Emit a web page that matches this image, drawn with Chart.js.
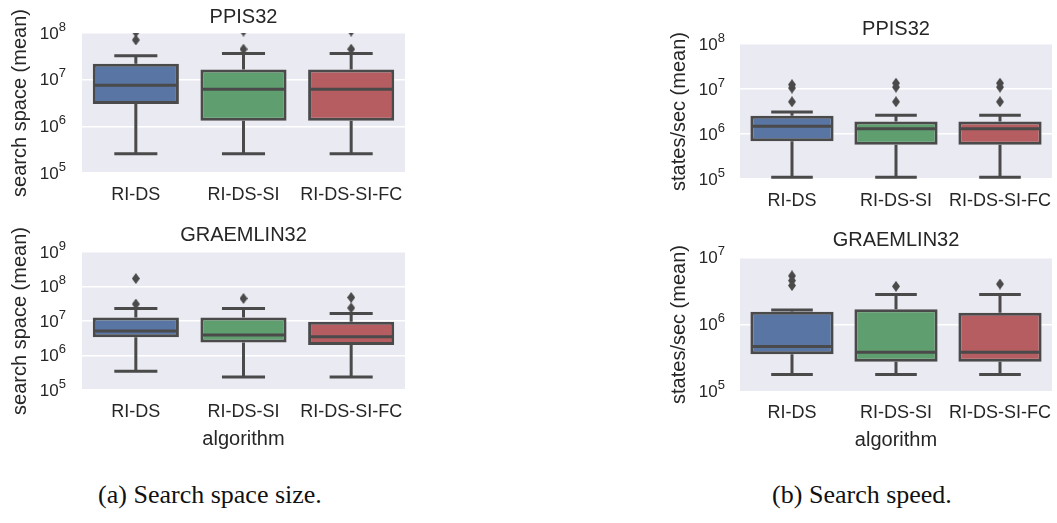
<!DOCTYPE html>
<html>
<head>
<meta charset="utf-8">
<script src="https://cdn.jsdelivr.net/npm/chart.js@4.4.1/dist/chart.umd.min.js"></script>
<style>
  body { margin: 0; background: #fff; width: 1057px; height: 523px; position: relative; overflow: hidden; }
  canvas { position: absolute; }
  .cap { position: absolute; font-family: "Liberation Serif", serif; font-size: 26px; line-height: 1; color: #111; transform: translateX(-50%); white-space: nowrap; }
</style>
</head>
<body>
<canvas id="a1" width="420" height="215" style="left:0;top:0"></canvas>
<canvas id="a2" width="420" height="240" style="left:0;top:215px"></canvas>
<canvas id="b1" width="417" height="220" style="left:640px;top:0"></canvas>
<canvas id="b2" width="417" height="240" style="left:640px;top:220px"></canvas>
<div class="cap" style="left:210px;top:482px">(a) Search space size.</div>
<div class="cap" style="left:862px;top:482px">(b) Search speed.</div>
<script>
const categories = ["RI-DS", "RI-DS-SI", "RI-DS-SI-FC"];

// search space, PPIS32
const spacePpisLow = [2.6e5, 2.6e5, 2.6e5];
const spacePpisQ1 = [3.0e6, 1.32e6, 1.32e6];
const spacePpisMed = [7.6e6, 6.2e6, 6.2e6];
const spacePpisQ3 = [2.2e7, 1.66e7, 1.66e7];
const spacePpisHigh = [3.25e7, 3.65e7, 3.65e7];
const spacePpisOut = [[1.05e8, 7.1e7], [1.1e8, 4.5e7], [1.1e8, 4.5e7]];
const spacePpisTicks = [1e5, 1e6, 1e7, 1e8];

// search space, GRAEMLIN32
const spaceGraemLow = [3.5e5, 2.4e5, 2.4e5];
const spaceGraemQ1 = [3.36e6, 2.4e6, 2.0e6];
const spaceGraemMed = [5.1e6, 3.9e6, 3.5e6];
const spaceGraemQ3 = [1.26e7, 1.26e7, 9.5e6];
const spaceGraemHigh = [2.3e7, 2.3e7, 1.65e7];
const spaceGraemOut = [[1.7e8, 3.1e7], [4.5e7], [4.8e7, 2.4e7]];
const spaceGraemTicks = [1e5, 1e6, 1e7, 1e8, 1e9];

// states/sec, PPIS32
const speedPpisLow = [1.1e5, 1.1e5, 1.1e5];
const speedPpisQ1 = [6.9e5, 5.8e5, 5.8e5];
const speedPpisMed = [1.48e6, 1.3e6, 1.3e6];
const speedPpisQ3 = [2.55e6, 1.9e6, 1.9e6];
const speedPpisHigh = [3.1e6, 2.6e6, 2.6e6];
const speedPpisOut = [[1.25e7, 1.05e7, 5.2e6], [1.35e7, 1.1e7, 5.2e6], [1.35e7, 1.1e7, 5.2e6]];
const speedPpisTicks = [1e5, 1e6, 1e7, 1e8];

// states/sec, GRAEMLIN32
const speedGraemLow = [1.8e5, 1.8e5, 1.8e5];
const speedGraemQ1 = [3.6e5, 2.8e5, 2.8e5];
const speedGraemMed = [4.7e5, 3.85e5, 3.85e5];
const speedGraemQ3 = [1.55e6, 1.68e6, 1.5e6];
const speedGraemHigh = [1.65e6, 2.8e6, 2.8e6];
const speedGraemOut = [[5.3e6, 4.5e6, 3.8e6], [3.7e6], [4.0e6]];
const speedGraemTicks = [1e5, 1e6, 1e7];

const boxColors = ["#5875a4", "#5f9e6e", "#b55d60"];
const edge = "#4a4a4a";
const ink = "#262626";
const font = "'Liberation Sans', Arial, sans-serif";

// thin diamond like seaborn's "d" marker
const diamond = document.createElement("canvas");
diamond.width = 8;
diamond.height = 11;
(function () {
  const c = diamond.getContext("2d");
  c.fillStyle = edge;
  c.beginPath();
  c.moveTo(4, 0); c.lineTo(8, 5.5); c.lineTo(4, 11); c.lineTo(0, 5.5);
  c.closePath();
  c.fill();
})();

function boxChart(id, o) {
  const outPoints = [];
  o.out.forEach((vals, i) => vals.forEach(v => outPoints.push({ x: categories[i], y: v })));

  const boxPlugin = {
    id: "box_" + id,
    beforeDraw(chart) {
      const a = chart.chartArea, ctx = chart.ctx;
      ctx.save();
      ctx.fillStyle = "#eaeaf2";
      ctx.fillRect(a.left, a.top, a.right - a.left, a.bottom - a.top);
      ctx.restore();
    },
    beforeDatasetsDraw(chart) {
      const a = chart.chartArea, ctx = chart.ctx;
      const x = chart.scales.x, y = chart.scales.y;
      const bars = chart.getDatasetMeta(0).data;
      ctx.save();
      ctx.beginPath();
      ctx.rect(a.left, a.top, a.right - a.left, a.bottom - a.top);
      ctx.clip();
      ctx.strokeStyle = edge;
      ctx.lineWidth = 3;
      categories.forEach((c, i) => {
        const px = x.getPixelForValue(i);
        const cap = bars[i].width / 4;
        ctx.beginPath();
        ctx.moveTo(px, y.getPixelForValue(o.q3[i]));
        ctx.lineTo(px, y.getPixelForValue(o.high[i]));
        ctx.moveTo(px - cap, y.getPixelForValue(o.high[i]));
        ctx.lineTo(px + cap, y.getPixelForValue(o.high[i]));
        ctx.moveTo(px, y.getPixelForValue(o.q1[i]));
        ctx.lineTo(px, y.getPixelForValue(o.low[i]));
        ctx.moveTo(px - cap, y.getPixelForValue(o.low[i]));
        ctx.lineTo(px + cap, y.getPixelForValue(o.low[i]));
        ctx.stroke();
      });
      ctx.restore();
    },
    afterDatasetsDraw(chart) {
      const ctx = chart.ctx;
      const x = chart.scales.x, y = chart.scales.y;
      const bars = chart.getDatasetMeta(0).data;
      ctx.save();
      ctx.strokeStyle = edge;
      ctx.lineWidth = 3;
      categories.forEach((c, i) => {
        const px = x.getPixelForValue(i);
        const hw = bars[i].width / 2 - 1.5;
        const py = y.getPixelForValue(o.med[i]);
        ctx.beginPath();
        ctx.moveTo(px - hw, py);
        ctx.lineTo(px + hw, py);
        ctx.stroke();
      });
      ctx.restore();
    },
    afterDraw(chart) {
      // y tick labels as 10 with a raised exponent
      const ctx = chart.ctx, y = chart.scales.y;
      const right = chart.chartArea.left - o.labelGap;
      ctx.save();
      ctx.fillStyle = ink;
      ctx.textAlign = "right";
      ctx.textBaseline = "middle";
      y.ticks.forEach(t => {
        const py = y.getPixelForValue(t.value);
        const ex = String(Math.round(Math.log10(t.value)));
        ctx.font = "13px " + font;
        const ew = ctx.measureText(ex).width;
        ctx.fillText(ex, right, py - 6);
        ctx.font = "17px " + font;
        ctx.fillText("10", right - ew, py + 1);
      });
      ctx.restore();
    }
  };

  return new Chart(document.getElementById(id), {
    type: "bar",
    data: {
      labels: categories,
      datasets: [
        {
          data: o.q1.map((v, i) => [v, o.q3[i]]),
          backgroundColor: boxColors,
          borderColor: edge,
          borderWidth: 3,
          borderSkipped: false,
          barPercentage: 0.8,
          categoryPercentage: 1,
          order: 2
        },
        {
          type: "scatter",
          data: outPoints,
          pointStyle: diamond,
          clip: 0,
          order: 1
        }
      ]
    },
    options: {
      responsive: false,
      animation: false,
      events: [],
      layout: { padding: { left: o.padLeft, right: o.padRight, top: 0, bottom: 0 } },
      plugins: {
        legend: { display: false },
        tooltip: { enabled: false },
        title: {
          display: true,
          text: o.title,
          fullSize: false,
          color: ink,
          font: { family: font, size: 20, weight: "normal" },
          padding: { top: o.titleTop, bottom: o.titleBottom }
        }
      },
      scales: {
        x: {
          grid: { display: false },
          border: { display: false },
          ticks: {
            color: ink, font: { family: font, size: 18 }, padding: o.tickPad,
            maxRotation: 0, minRotation: 0, autoSkip: false
          },
          title: {
            display: !!o.xTitle,
            text: o.xTitle || "",
            color: ink,
            font: { family: font, size: 20 },
            padding: { top: 0, bottom: o.xTitleBottom || 4 }
          },
          afterFit: s => { s.height = o.xHeight; }
        },
        y: {
          type: "logarithmic",
          min: o.ticks[0],
          max: o.ticks[o.ticks.length - 1],
          afterBuildTicks: s => { s.ticks = o.ticks.map(v => ({ value: v })); },
          ticks: { callback: () => "" },
          grid: { color: "#ffffff", lineWidth: 1.6, drawTicks: false },
          border: { display: false },
          title: {
            display: true,
            text: o.yTitle,
            color: ink,
            font: { family: font, size: 20 },
            padding: { top: 4, bottom: 4 }
          },
          afterFit: s => { s.width = o.yWidth; }
        }
      }
    },
    plugins: [boxPlugin]
  });
}

boxChart("a1", {
  title: "PPIS32", yTitle: "search space (mean)",
  low: spacePpisLow, q1: spacePpisQ1, med: spacePpisMed, q3: spacePpisQ3, high: spacePpisHigh,
  out: spacePpisOut, ticks: spacePpisTicks,
  padLeft: 4, padRight: 15, yWidth: 78, titleTop: 5.5, titleBottom: 3.5,
  xHeight: 42, tickPad: 3, labelGap: 16
});
boxChart("a2", {
  title: "GRAEMLIN32", yTitle: "search space (mean)", xTitle: "algorithm",
  low: spaceGraemLow, q1: spaceGraemQ1, med: spaceGraemMed, q3: spaceGraemQ3, high: spaceGraemHigh,
  out: spaceGraemOut, ticks: spaceGraemTicks,
  padLeft: 4, padRight: 15, yWidth: 78, titleTop: 8, titleBottom: 5,
  xHeight: 65, tickPad: 3, xTitleBottom: 4, labelGap: 16
});
boxChart("b1", {
  title: "PPIS32", yTitle: "states/sec (mean)",
  low: speedPpisLow, q1: speedPpisQ1, med: speedPpisMed, q3: speedPpisQ3, high: speedPpisHigh,
  out: speedPpisOut, ticks: speedPpisTicks,
  padLeft: 23, padRight: 2, yWidth: 77, titleTop: 17, titleBottom: 3,
  xHeight: 41, tickPad: 3, labelGap: 15
});
boxChart("b2", {
  title: "GRAEMLIN32", yTitle: "states/sec (mean)", xTitle: "algorithm",
  low: speedGraemLow, q1: speedGraemQ1, med: speedGraemMed, q3: speedGraemQ3, high: speedGraemHigh,
  out: speedGraemOut, ticks: speedGraemTicks,
  padLeft: 23, padRight: 2, yWidth: 77, titleTop: 8, titleBottom: 5.3,
  xHeight: 68.3, tickPad: 2.5, xTitleBottom: 7.5, labelGap: 15
});
</script>
</body>
</html>
